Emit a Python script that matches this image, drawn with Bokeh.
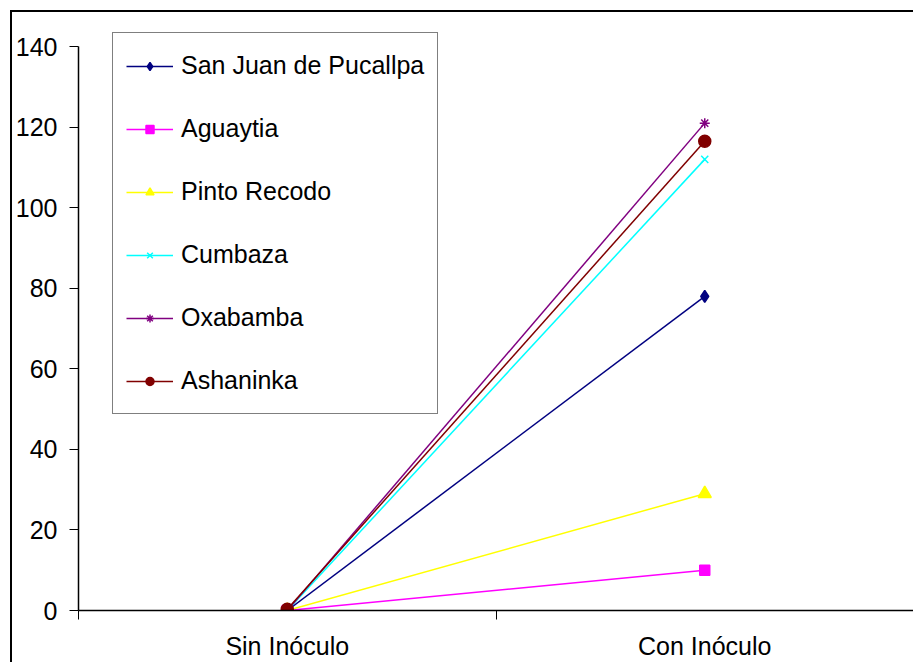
from bokeh.plotting import figure
from bokeh.models import FixedTicker, Legend
from bokeh.embed import file_html
from bokeh.resources import INLINE

categories = ["Sin Inóculo", "Con Inóculo"]
series_names = ["San Juan de Pucallpa", "Aguaytia", "Pinto Recodo", "Cumbaza", "Oxabamba", "Ashaninka"]
san_juan = [0, 78]
aguaytia = [0, 10]
pinto_recodo = [0, 29]
cumbaza = [0, 112]
oxabamba = [0, 121]
ashaninka = [0.3, 116.5]
y_ticks = [0, 20, 40, 60, 80, 100, 120, 140]

series_values = [san_juan, aguaytia, pinto_recodo, cumbaza, oxabamba, ashaninka]
colors = ["#000080", "#FF00FF", "#FFFF00", "#00FFFF", "#800080", "#800000"]
markers = ["diamond", "square", "triangle", "x", "asterisk", "circle"]
sizes = [12, 10, 13, 10, 10, 12]

FONT = "Liberation Sans"
FS = "25px"

xs = [i + 0.5 for i in range(len(categories))]

p = figure(width=903, height=652, output_backend="svg", toolbar_location=None,
           x_range=(0, len(categories)), y_range=(0, 143.5),
           min_border_left=66, min_border_right=2, min_border_top=20, min_border_bottom=54)
p.margin = (10, 0, 0, 10)
p.styles = {"border-left": "2px solid black", "border-top": "2px solid black"}
p.outline_line_color = None
p.xgrid.visible = False
p.ygrid.visible = False

items = []
for name, vals, c, m, s in zip(series_names, series_values, colors, markers, sizes):
    r1 = p.line(xs, vals, line_color=c, line_width=1.5)
    r2 = p.scatter(xs, vals, marker=m, size=s, fill_color=c, line_color=c, line_width=1.5)
    items.append((name, [r1, r2]))

# x axis: labels at category centers, tick marks at category boundaries
p.xaxis.ticker = FixedTicker(ticks=xs, minor_ticks=list(range(len(categories) + 1)))
p.xaxis.major_label_overrides = {x: c for x, c in zip(xs, categories)}
p.xaxis.major_tick_out = 0
p.xaxis.major_tick_in = 0
p.xaxis.minor_tick_out = 9
p.xaxis.minor_tick_in = 0
p.xaxis.minor_tick_line_color = "black"
p.xaxis.major_label_standoff = 12
p.xaxis.axis_line_color = "black"
p.xaxis.axis_line_width = 1.5

p.yaxis.ticker = FixedTicker(ticks=y_ticks)
p.yaxis.bounds = (0, 140)
p.yaxis.major_tick_out = 9
p.yaxis.major_tick_in = 0
p.yaxis.minor_tick_line_color = None
p.yaxis.major_label_standoff = 12
p.yaxis.axis_line_color = "black"
p.yaxis.axis_line_width = 1.5

for ax in (p.xaxis, p.yaxis):
    ax.major_label_text_font = FONT
    ax.major_label_text_font_size = FS
    ax.major_label_text_color = "black"
    ax.major_tick_line_color = "black"

legend = Legend(items=items, location=(34, 196))
legend.label_text_font = FONT
legend.label_text_font_size = FS
legend.label_text_color = "black"
legend.glyph_width = 47
legend.glyph_height = 20
legend.label_height = 39
legend.label_width = 241
legend.label_standoff = 8
legend.spacing = 24
legend.padding = 13
legend.margin = 0
legend.border_line_color = "black"
legend.border_line_width = 1.5
legend.background_fill_color = "white"
legend.background_fill_alpha = 1
p.add_layout(legend, "center")

open("out.html", "w").write(file_html(p, INLINE))
